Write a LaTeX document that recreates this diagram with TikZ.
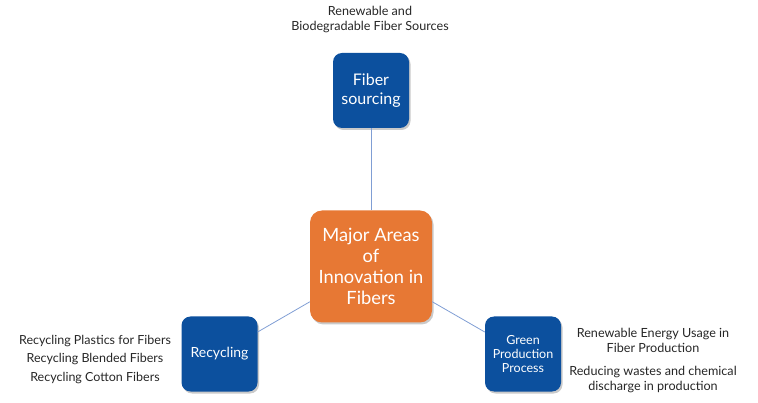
\documentclass[tikz,border=0pt]{standalone}
\usepackage{fontspec}
\setmainfont{Lato}
\usetikzlibrary{shadows}
\definecolor{boxblue}{RGB}{12,80,158}
\definecolor{boxorange}{RGB}{231,120,52}
\definecolor{linkblue}{RGB}{128,158,212}
\begin{document}
\begin{tikzpicture}[x=1pt,y=-1pt,
  bluebox/.style={draw=none,fill=boxblue,rounded corners=9pt,text=white,align=center,
    minimum width=76pt,minimum height=75pt,inner sep=0pt,
    drop shadow={shadow xshift=1.5pt,shadow yshift=-2pt,opacity=0.35,fill=black!60}},
  orangebox/.style={draw=none,fill=boxorange,rounded corners=12pt,text=white,align=center,
    minimum width=122pt,minimum height=112pt,inner sep=0pt,
    drop shadow={shadow xshift=1.5pt,shadow yshift=-2pt,opacity=0.35,fill=black!60}},
  link/.style={draw=linkblue,line width=0.8pt},
  lbl/.style={align=center,font=\fontsize{12.6}{15}\selectfont,text=black!85,inner sep=0pt}
]
\useasboundingbox (0,0) rectangle (758,403);
\node[bluebox,font=\fontsize{16}{19}\selectfont] (fs) at (371,90.5) {Fiber\\sourcing};
\node[orangebox,font=\fontsize{18.3}{21}\selectfont] (main) at (371,266.5) {Major Areas\\of\\Innovation in\\Fibers};
\node[bluebox,font=\fontsize{14}{17}\selectfont] (rec) at (219.5,354) {Recycling};
\node[bluebox,font=\fontsize{12.5}{14}\selectfont] (gpp) at (523,354) {Green\\Production\\Process};
\draw[link] (fs) -- (main);
\draw[link] (rec) -- (main);
\draw[link] (gpp) -- (main);
\node[lbl] (t1) at (370,20) {Renewable and\\Biodegradable Fiber Sources};
\node[lbl,font=\fontsize{12.5}{18.5}\selectfont] (t2) at (95,359.5) {Recycling Plastics for Fibers\\Recycling Blended Fibers\\Recycling Cotton Fibers};
\node[lbl] (t3) at (653,340) {Renewable Energy Usage in\\Fiber Production};
\node[lbl] (t4) at (653,379.5) {Reducing wastes and chemical\\discharge in production};
\end{tikzpicture}
\end{document}
